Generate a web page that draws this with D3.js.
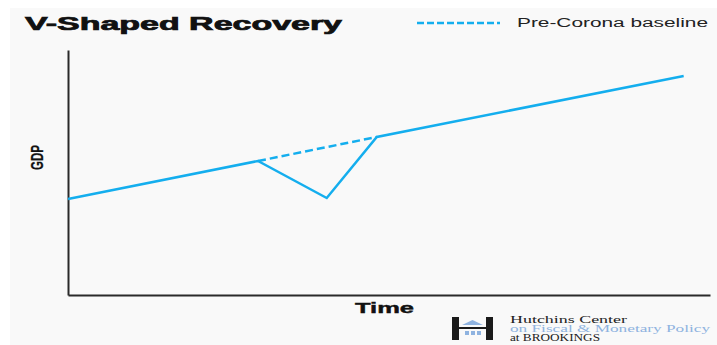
<!DOCTYPE html>
<html>
<head>
<meta charset="utf-8">
<script src="https://cdn.jsdelivr.net/npm/d3@7"></script>
<style>
  html, body { margin: 0; padding: 0; background: #ffffff; }
  svg { display: block; }
</style>
</head>
<body>
<div id="chart"></div>
<script>
// ---- data (time index 0-100, GDP index 0-100, unitless schematic) ----
const actualTime = [0, 29.6, 40.3, 48.1, 95.9];
const actualGDP  = [39.2, 54.7, 39.6, 64.5, 89.4];
const baselineTime = [29.6, 48.1];
const baselineGDP  = [54.7, 64.5];
const titleText = "V-Shaped Recovery";
const legendLabel = "Pre-Corona baseline";
const xLabel = "Time";
const yLabel = "GDP";
const logoLines = ["Hutchins Center", "on Fiscal & Monetary Policy", "at BROOKINGS"];

const W = 717, H = 345;
const blue = "#14aeee";
const svg = d3.select("#chart").append("svg").attr("width", W).attr("height", H);

// panel background
svg.append("rect").attr("x", 10).attr("y", 8).attr("width", W - 10).attr("height", H - 8).attr("fill", "#f9f9f9");

const x = d3.scaleLinear().domain([0, 100]).range([68, 710]);
const y = d3.scaleLinear().domain([0, 100]).range([295, 50]);

// axes (no ticks)
const xAxis = d3.axisBottom(x).tickValues([]).tickSizeOuter(0);
const yAxis = d3.axisLeft(y).tickValues([]).tickSizeOuter(0);
svg.append("g").attr("transform", "translate(0,295)").call(xAxis)
  .select(".domain").attr("stroke", "#2a2a2a").attr("stroke-width", 2);
svg.append("g").attr("transform", "translate(68,0)").call(yAxis)
  .select(".domain").attr("stroke", "#2a2a2a").attr("stroke-width", 2);

const line = d3.line().x(d => x(d[0])).y(d => y(d[1]));

// baseline dashed
svg.append("path")
  .datum(baselineTime.map((t, i) => [t, baselineGDP[i]]))
  .attr("d", line).attr("fill", "none").attr("stroke", blue)
  .attr("stroke-width", 2.5).attr("stroke-dasharray", "8,4");

// actual
svg.append("path")
  .datum(actualTime.map((t, i) => [t, actualGDP[i]]))
  .attr("d", line).attr("fill", "none").attr("stroke", blue)
  .attr("stroke-width", 2.5).attr("stroke-linejoin", "miter");

// title
svg.append("text").attr("x", 25).attr("y", 30)
  .attr("font-family", "Liberation Sans, Arial, sans-serif").attr("font-weight", "bold")
  .attr("font-size", 18).attr("fill", "#111").attr("stroke", "#111").attr("stroke-width", 0.7)
  .attr("textLength", 317).attr("lengthAdjust", "spacingAndGlyphs")
  .text(titleText);

// legend
svg.append("line").attr("x1", 417).attr("x2", 500).attr("y1", 23).attr("y2", 23)
  .attr("stroke", blue).attr("stroke-width", 2.5).attr("stroke-dasharray", "7,3");
svg.append("text").attr("x", 517).attr("y", 27)
  .attr("font-family", "Liberation Sans, Arial, sans-serif")
  .attr("font-size", 12).attr("fill", "#222")
  .attr("textLength", 191).attr("lengthAdjust", "spacingAndGlyphs")
  .text(legendLabel);

// axis labels
svg.append("text").attr("x", 355).attr("y", 313)
  .attr("font-family", "Liberation Sans, Arial, sans-serif").attr("font-weight", "bold")
  .attr("font-size", 14).attr("fill", "#111").attr("stroke", "#111").attr("stroke-width", 0.4)
  .attr("textLength", 59).attr("lengthAdjust", "spacingAndGlyphs")
  .text(xLabel);
svg.append("text")
  .attr("transform", "translate(43,170) rotate(-90)")
  .attr("font-family", "Liberation Sans, Arial, sans-serif").attr("font-weight", "bold")
  .attr("font-size", 17).attr("fill", "#111").attr("stroke", "#111").attr("stroke-width", 0.3)
  .attr("textLength", 25).attr("lengthAdjust", "spacingAndGlyphs")
  .text(yLabel);

// logo icon
const logo = svg.append("g");
logo.append("rect").attr("x", 452).attr("y", 317).attr("width", 7).attr("height", 23).attr("fill", "#1a1a1a");
logo.append("rect").attr("x", 486).attr("y", 317).attr("width", 7).attr("height", 23).attr("fill", "#1a1a1a");
logo.append("rect").attr("x", 459).attr("y", 327).attr("width", 27).attr("height", 2).attr("fill", "#1a1a1a");
logo.append("path").attr("d", "M462,325 L472.5,320 L483,325 Z").attr("fill", "#8fb3e0");
[465, 471, 477].forEach(px =>
  logo.append("rect").attr("x", px).attr("y", 331).attr("width", 4).attr("height", 4).attr("fill", "#8fb3e0"));

const logoColors = ["#222", "#8fb3e0", "#222"];
const logoLens = [117, 200, 90];
const logoY = [323, 332, 341];
logoLines.forEach((t, i) => {
  svg.append("text").attr("x", 510).attr("y", logoY[i])
    .attr("font-family", "Liberation Serif, Times New Roman, serif")
    .attr("font-size", 9.5).attr("fill", logoColors[i])
    .attr("textLength", logoLens[i]).attr("lengthAdjust", "spacingAndGlyphs")
    .text(t);
});
</script>
</body>
</html>
